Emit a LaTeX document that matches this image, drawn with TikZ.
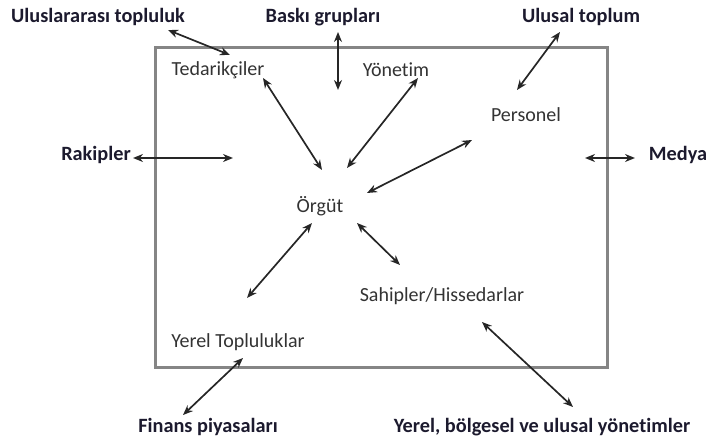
\documentclass[tikz,border=0pt]{standalone}
\usepackage{fontspec}
\setmainfont[Ligatures=NoCommon]{Carlito}
\usetikzlibrary{arrows.meta,positioning,calc}
\definecolor{boxgray}{HTML}{858585}
\definecolor{inktxt}{HTML}{333333}
\definecolor{outtxt}{HTML}{1C1A2E}

\begin{document}
\begin{tikzpicture}[x=1pt,y=-1pt,>={Stealth[length=10pt,width=8pt]},
 inner/.style={text=inktxt,font=\fontsize{20}{24}\selectfont},
 outer/.style={text=outtxt,font=\fontsize{20.3}{24}\selectfont\bfseries},
 arr/.style={<->,line width=1.7pt,black!85}]
 \useasboundingbox (0,0) rectangle (707,441);
 \draw[boxgray,line width=3pt] (155,48) rectangle (607,367);
 % inside the box
 \node[inner] (ted) at (218,70) {Tedarikçiler};
 \node[inner] (yon) at (396,70) {Yönetim};
 \node[inner] (pers) at (526,115) {Personel};
 \node[inner] (org) at (320,206) {Örgüt};
 \node[inner] (sah) at (442,296) {Sahipler/Hissedarlar};
 \node[inner] (yer) at (238,342) {Yerel Topluluklar};
 % outside the box
 \node[outer] (ulus) at (98,17) {Uluslararası topluluk};
 \node[outer] (bask) at (323,17) {Baskı grupları};
 \node[outer] (ulsl) at (581,17) {Ulusal toplum};
 \node[outer] (rak) at (96,155) {Rakipler};
 \node[outer] (med) at (678,155) {Medya};
 \node[outer] (fin) at (208,427) {Finans piyasaları};
 \node[outer] (yyon) at (542,427) {Yerel, bölgesel ve ulusal yönetimler};
 \coordinate (baskin) at (338,90);
 \coordinate (rakin) at (233,158);
 \coordinate (medin) at (585,158);
 % connectors
 \draw[arr] ([shift={(70,13)}]ulus.center) -- ([shift={(12,-15)}]ted.center);
 \draw[arr] ([shift={(15,15)}]bask.center) -- (baskin);
 \draw[arr] ([shift={(-21,15)}]ulsl.center) -- ([shift={(-9,-25)}]pers.center);
 \draw[arr] ([shift={(45,8)}]ted.center) -- ([shift={(2,-36)}]org.center);
 \draw[arr] ([shift={(22,8)}]yon.center) -- ([shift={(27,-38)}]org.center);
 \draw[arr] ([shift={(-54,25)}]pers.center) -- ([shift={(47,-13)}]org.center);
 \draw[arr] ([shift={(37,3)}]rak.center) -- (rakin);
 \draw[arr] (medin) -- ([shift={(-43,3)}]med.center);
 \draw[arr] ([shift={(-8,17)}]org.center) -- ([shift={(9,-44)}]yer.center);
 \draw[arr] ([shift={(37,17)}]org.center) -- ([shift={(-42,-31)}]sah.center);
 \draw[arr] ([shift={(5,16)}]yer.center) -- ([shift={(-25,-12)}]fin.center);
 \draw[arr] ([shift={(40,26)}]sah.center) -- ([shift={(31,-20)}]yyon.center);
\end{tikzpicture}
\end{document}
